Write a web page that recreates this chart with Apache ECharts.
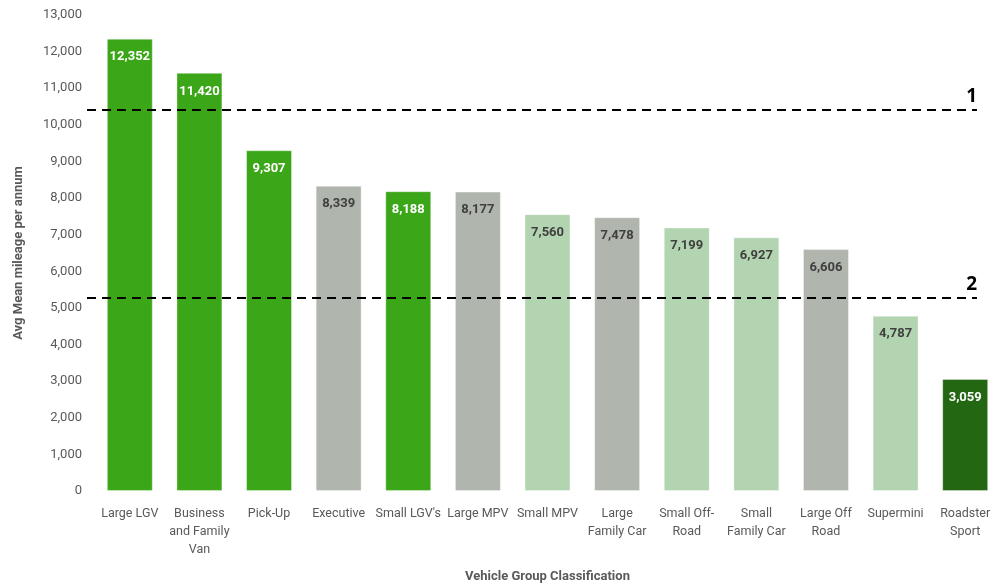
<!DOCTYPE html>
<html>
<head>
<meta charset="utf-8">
<script src="https://cdn.jsdelivr.net/npm/echarts@6/dist/echarts.min.js"></script>
<style>html,body{margin:0;padding:0;background:#fff}#c{width:1006px;height:585px}</style>
</head>
<body>
<div id="c"></div>
<script>
const categories = ["Large LGV","Business\nand Family\nVan","Pick-Up","Executive","Small LGV's","Large MPV","Small MPV","Large\nFamily Car","Small Off-\nRoad","Small\nFamily Car","Large Off\nRoad","Supermini","Roadster\nSport"];
const values = [12352,11420,9307,8339,8188,8177,7560,7478,7199,6927,6606,4787,3059];
const groups = ["g","g","g","x","g","x","l","x","l","l","x","l","d"];
const thresholds = [10410, 5280];
const thresholdLabels = ["1","2"];

const colors = {g:"#3CA619", x:"#B0B6AD", l:"#B3D4B0", d:"#236713"};
const labelColors = {g:"#FFFFFF", x:"#404040", l:"#404040", d:"#FFFFFF"};
const font = "'Roboto', sans-serif";

const chart = echarts.init(document.getElementById('c'));
chart.setOption({
  animation:false,
  grid:[
    {left:95, right:6, top:15, bottom:94, outerBoundsMode:'none', containLabel:false},
    {left:87, right:29, top:15, bottom:94, outerBoundsMode:'none', containLabel:false}
  ],
  xAxis:[
    {type:'category', data:categories, gridIndex:0,
     axisLine:{show:false}, axisTick:{show:false},
     axisLabel:{color:'#595959', fontSize:12.5, fontFamily:font, lineHeight:18, margin:14, interval:0},
     name:'Vehicle Group Classification', nameLocation:'middle', nameGap:79,
     nameTextStyle:{color:'#595959', fontSize:13, fontWeight:'bold', fontFamily:font}},
    {type:'value', gridIndex:1, min:0, max:1, show:false}
  ],
  yAxis:[
    {type:'value', gridIndex:0, min:0, max:13000, interval:1000,
     splitLine:{show:false}, axisLine:{show:false}, axisTick:{show:false},
     axisLabel:{color:'#595959', fontSize:13, fontFamily:font, margin:13,
       formatter:v=>v.toLocaleString('en-US')},
     name:'Avg Mean mileage per annum', nameLocation:'middle', nameGap:70, nameRotate:90,
     nameTextStyle:{color:'#595959', fontSize:13, fontWeight:'bold', fontFamily:font}},
    {type:'value', gridIndex:1, min:0, max:13000, show:false}
  ],
  series:[
    {type:'bar', xAxisIndex:0, yAxisIndex:0, barCategoryGap:'34%',
     data:values.map((v,i)=>({value:v,
       itemStyle:{color:colors[groups[i]], borderColor:'rgba(255,255,255,0.35)', borderWidth:1},
       label:{color:labelColors[groups[i]]}})),
     label:{show:true, position:'insideTop', distance:12, fontSize:13, fontWeight:'bold', fontFamily:font,
       formatter:p=>p.value.toLocaleString('en-US')}},
    {type:'line', xAxisIndex:1, yAxisIndex:1, data:[], symbol:'none',
     markLine:{silent:true, symbol:'none',
       lineStyle:{color:'#000', type:[9,6], width:2},
       label:{show:true, position:'insideEndTop', color:'#000', fontSize:19, fontWeight:'bold',
         fontFamily:"'Open Sans', 'DejaVu Sans', sans-serif", distance:[0,4]},
       data:thresholds.map((t,i)=>[
         {coord:[0,t], label:{formatter:thresholdLabels[i]}},
         {coord:[1,t]}
       ])}}
  ]
});
</script>
</body>
</html>
